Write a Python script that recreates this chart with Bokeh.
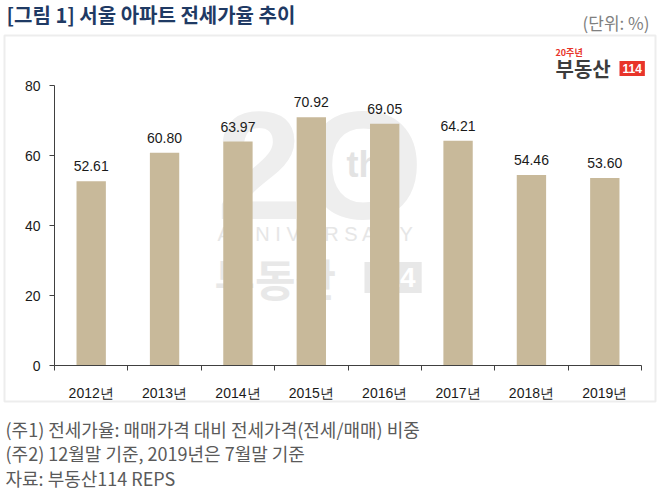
from bokeh.plotting import figure
from bokeh.models import ColumnDataSource, Range1d, FixedTicker, LabelSet, Label, BoxAnnotation
from bokeh.embed import file_html
from bokeh.resources import INLINE
from bokeh.core.properties import value

# ---- data ----
years = ["2012년", "2013년", "2014년", "2015년", "2016년", "2017년", "2018년", "2019년"]
ratios = [52.61, 60.80, 63.97, 70.92, 69.05, 64.21, 54.46, 53.60]
y_ticks = [0, 20, 40, 60, 80]
y_min, y_max = 0, 80
title_text = "[그림 1] 서울 아파트 전세가율 추이"
unit_text = "(단위: %)"
notes = [
    "(주1) 전세가율: 매매가격 대비 전세가격(전세/매매) 비중",
    "(주2) 12월말 기준, 2019년은 7월말 기준",
    "자료: 부동산114 REPS",
]

# ---- layout (canvas pixels) ----
W, H = 658, 496
PL, PR, PT, PB = 54, 641, 85, 365     # plot area edges
n = len(years)
SX = (PR - PL) / n
SY = (PB - PT) / (y_max - y_min)
BAR = "#c8b99a"
AXIS = "#404040"

xs = list(range(n))
src = ColumnDataSource(dict(x=xs, v=ratios, lab=[f"{r:.2f}" for r in ratios]))

p = figure(width=W, height=H, output_backend="svg", toolbar_location=None,
           x_range=Range1d(-0.5 - PL / SX, n - 0.5 + (W - PR) / SX),
           y_range=Range1d(y_min - (H - PB) / SY, y_max + PT / SY),
           min_border=0)
p.title.visible = False
p.outline_line_color = None
p.grid.visible = False
p.background_fill_color = "white"
p.border_fill_color = "white"


def L(x, y_top, text, **kw):
    return Label(x=x, y=H - y_top, x_units="screen", y_units="screen", text=text, **kw)


# chart border box
p.add_layout(BoxAnnotation(left=4, right=655, top=H - 35, bottom=H - 401,
                           left_units="screen", right_units="screen",
                           top_units="screen", bottom_units="screen",
                           fill_color=None, line_color="#c4c4c4", line_width=2,
                           level="underlay"))

# watermark (faint)
p.add_layout(L(216, 165, "2", text_font="Liberation Sans", text_font_style="bold",
               text_font_size="154px", text_color="#eeeeee", text_baseline="middle",
               level="underlay"))
p.add_layout(L(303, 165, "O", text_font="Liberation Sans", text_font_style="bold",
               text_font_size="154px", text_color="#eeeeee", text_baseline="middle",
               level="underlay"))
p.add_layout(L(346, 164, "th", text_font="Liberation Sans", text_font_style="bold",
               text_font_size="36px", text_color="#e3e3e3", text_baseline="middle",
               level="underlay"))
p.add_layout(L(217, 233, "A N N I V E R S A R Y", text_font="Liberation Sans",
               text_font_size="20px", text_color="#e6e6e6", text_baseline="middle",
               level="underlay"))
p.add_layout(L(214, 277, "부동산", text_font="Noto Sans CJK KR", text_font_style="bold",
               text_font_size="44px", text_color="#e8e8e8", text_baseline="middle",
               level="underlay"))
p.add_layout(L(364, 277, "114", text_font="Liberation Sans", text_font_style="bold",
               text_font_size="28px", text_color="white", text_baseline="middle",
               background_fill_color="#e8e8e8", padding=6, level="underlay"))

# bars
p.vbar(x="x", top="v", width=0.4, source=src, fill_color=BAR, line_color=None)
p.add_layout(LabelSet(x="x", y="v", text="lab", source=src, y_offset=10,
                      text_align="center", text_baseline="alphabetic",
                      text_font=value("Liberation Sans"), text_font_size="14px",
                      text_color="#1a1a1a"))

# axes
xa = p.xaxis[0]
xa.fixed_location = y_min
xa.bounds = (-0.5, n - 0.5)
xa.ticker = FixedTicker(ticks=xs, minor_ticks=[i - 0.5 for i in range(n + 1)])
xa.major_label_overrides = {i: y for i, y in enumerate(years)}
xa.major_tick_line_color = None
xa.minor_tick_in = 0
xa.minor_tick_out = 5
xa.minor_tick_line_color = AXIS
xa.axis_line_color = AXIS
xa.major_label_standoff = 13
xa.major_label_text_font = "Liberation Sans"
xa.major_label_text_font_size = "14px"
xa.major_label_text_color = "#1a1a1a"

ya = p.yaxis[0]
ya.fixed_location = -0.5
ya.bounds = (y_min, y_max)
ya.ticker = FixedTicker(ticks=y_ticks, minor_ticks=[])
ya.major_tick_in = 0
ya.major_tick_out = 5
ya.major_tick_line_color = AXIS
ya.minor_tick_line_color = None
ya.axis_line_color = AXIS
ya.major_label_standoff = 9
ya.major_label_text_font = "Liberation Sans"
ya.major_label_text_font_size = "14px"
ya.major_label_text_color = "#1a1a1a"

# title and unit
p.add_layout(L(6, 14, title_text, text_font="Noto Sans CJK KR", text_font_style="bold",
               text_font_size="20px", text_color="#1f3a64", text_baseline="middle"))
p.add_layout(L(649, 22, unit_text, text_font="Noto Sans CJK KR", text_font_size="17px",
               text_color="#808080", text_align="right", text_baseline="middle"))

# logo top right
p.add_layout(L(555, 52, "20주년", text_font="Noto Sans CJK KR", text_font_style="bold",
               text_font_size="9px", text_color="#e8342a", text_baseline="middle"))
p.add_layout(L(555, 68, "부동산", text_font="Noto Sans CJK KR", text_font_style="bold",
               text_font_size="20px", text_color="#3c3c3c", text_baseline="middle"))
p.add_layout(L(619, 68, "114", text_font="Liberation Sans", text_font_style="bold",
               text_font_size="12px", text_color="white", text_baseline="middle",
               background_fill_color="#e8342a", padding=3))

# footnotes
for i, t in enumerate(notes):
    p.add_layout(L(5, 428 + 24.5 * i, t, text_font="Noto Sans CJK KR", text_font_size="18px",
                   text_color="#5a5a5a", text_baseline="middle"))

open("out.html", "w").write(file_html(p, INLINE))
